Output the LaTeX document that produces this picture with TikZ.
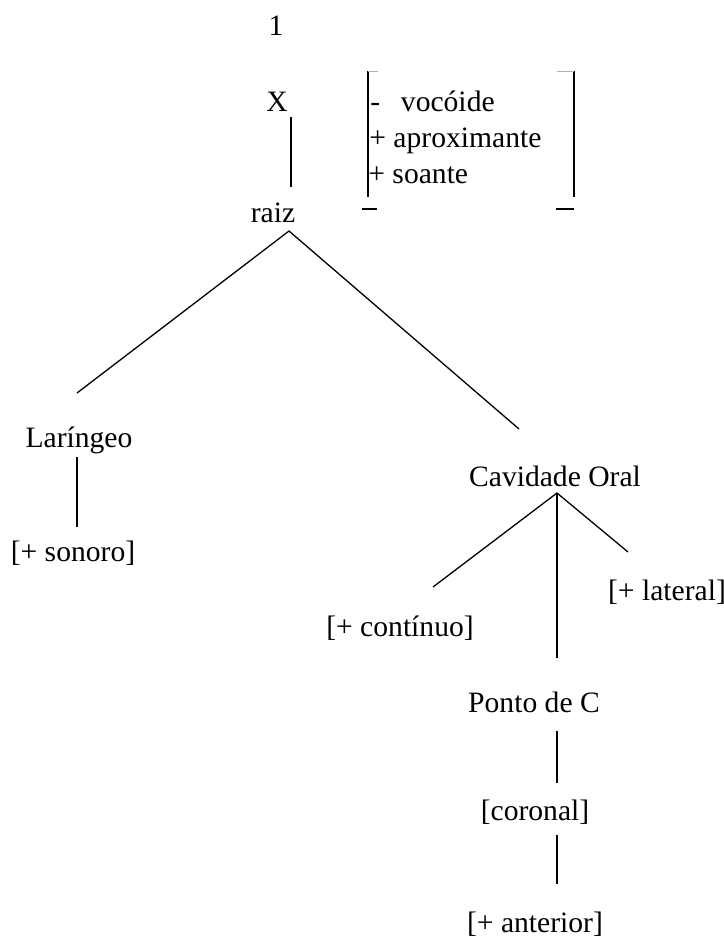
\documentclass[tikz,border=0pt]{standalone}
\usepackage{fontspec}
\setmainfont{Liberation Serif}
\begin{document}
\begin{tikzpicture}[x=0.5pt,y=-0.5pt,
  lbl/.style={inner sep=0pt,anchor=base,font=\fontsize{14.8}{17}\selectfont},
  feat/.style={inner sep=0pt,anchor=base west,font=\fontsize{14.8}{17}\selectfont},
  branch/.style={line width=0.65pt},
  stem/.style={line width=1pt},
  brk/.style={line width=1pt},
  tick/.style={line width=0.5pt,gray!60}]
\useasboundingbox (0,0) rectangle (723,942);

% labels of the tree
\node[lbl] (one)  at (276,35)  {1};
\node[lbl] (x)    at (277,111) {X};
\node[lbl] (raiz) at (273,222) {raiz};
\node[lbl] (lar)  at (79,447)  {Laríngeo};
\node[lbl] (son)  at (73,561)  {[+ sonoro]};
\node[lbl] (cav)  at (555,486) {Cavidade Oral};
\node[lbl] (lat)  at (667,600) {[+ lateral]};
\node[lbl] (cont) at (400,636) {[+ contínuo]};
\node[lbl] (pc)   at (534,712) {Ponto de C};
\node[lbl] (cor)  at (535,820) {[coronal]};
\node[lbl] (ant)  at (535,932) {[+ anterior]};

% feature matrix of the root
\node[feat] (f1) at (370,111) {-\hspace{0.7em}vocóide};
\node[feat] (f2) at (369,147) {+ aproximante};
\node[feat] (f3) at (368,183) {+ soante};

% bracket edges
\coordinate (bl1) at (368,71);  \coordinate (bl2) at (368,197);
\coordinate (br1) at (574,71);  \coordinate (br2) at (574,197);
\draw[brk] (bl1) -- (bl2);
\draw[brk] (br1) -- (br2);
\draw[tick] (bl1) -- ++(10,0);
\draw[tick] (br1) -- ++(-17,0);
\coordinate (bl3) at (362,209); \coordinate (bl4) at (377,209);
\coordinate (br3) at (556,209); \coordinate (br4) at (574,209);
\draw[brk] (bl3) -- (bl4);
\draw[brk] (br3) -- (br4);

% attachment points of the branches
\coordinate (xS)    at (291,117);
\coordinate (raizN) at (291,187);
\coordinate (raizS) at (289,231);
\coordinate (larN)  at (77,393);
\coordinate (cavN)  at (519,429);
\coordinate (larS)  at (77,457);
\coordinate (sonN)  at (77,527);
\coordinate (cavS)  at (557,493);
\coordinate (contN) at (433,587);
\coordinate (latN)  at (628,552);
\coordinate (pcN)   at (557,658);
\coordinate (pcS)   at (557,731);
\coordinate (corN)  at (557,783);
\coordinate (corS)  at (557,835);
\coordinate (antN)  at (557,884);

% branches
\draw[stem] (xS) -- (raizN);
\draw[branch] (larN) -- (raizS) -- (cavN);
\draw[stem] (larS) -- (sonN);
\draw[branch] (contN) -- (cavS) -- (latN);
\draw[stem] (cavS) -- (pcN);
\draw[stem] (pcS) -- (corN);
\draw[stem] (corS) -- (antN);
\end{tikzpicture}
\end{document}
